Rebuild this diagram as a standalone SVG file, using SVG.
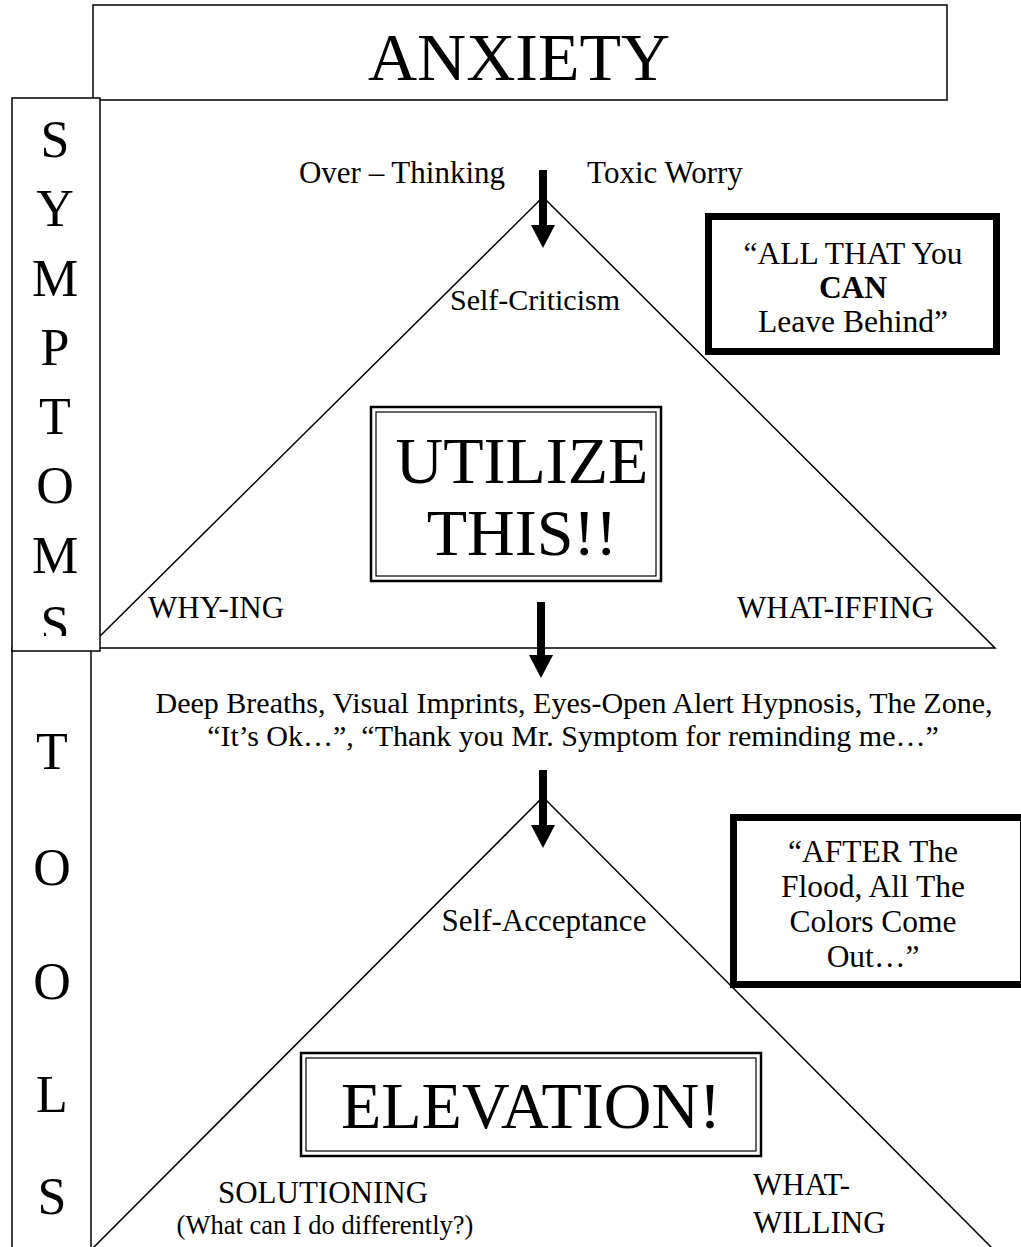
<svg xmlns="http://www.w3.org/2000/svg" width="1021" height="1247" viewBox="0 0 1021 1247">
<defs>
<style>
text{font-family:"Liberation Serif","Times New Roman",serif;fill:#000}
.box{fill:#fff;stroke:#000;stroke-width:1.5}
.tri{fill:none;stroke:#000;stroke-width:1.5}
.col{font-size:52px;text-anchor:middle}
.body{font-size:31px}
.q{font-size:31.5px;text-anchor:middle}
.mid{text-anchor:middle}
.quote{fill:#fff;stroke:#000;stroke-width:7}
.dbl-o{fill:#fff;stroke:#000;stroke-width:2.5}
.dbl-i{fill:none;stroke:#000;stroke-width:1.2}
.big{font-size:66px;text-anchor:middle}
.arrow{stroke:#000;stroke-width:8;marker-end:url(#ah)}
</style>
<marker id="ah" viewBox="0 0 23 24" refX="0" refY="12" markerWidth="23" markerHeight="24" markerUnits="userSpaceOnUse" orient="auto">
<path d="M0,0 L23,12 L0,24 z" fill="#000"/>
</marker>
<clipPath id="clipS"><rect x="0" y="0" width="120" height="636"/></clipPath>
</defs>

<g id="triangle-top">
<polygon class="tri" points="543,197 88,648 995,648"/>
</g>
<g id="triangle-bottom">
<polygon class="tri" points="543,797 92,1249 993,1249"/>
</g>

<g id="anxiety">
<rect class="box" x="93" y="5" width="854" height="95"/>
<text x="519" y="80" style="font-size:68px;text-anchor:middle">ANXIETY</text>
</g>

<g id="tools">
<rect class="box" x="12" y="648" width="79" height="610"/>
<text class="col" x="52" y="769">T</text>
<text class="col" x="52" y="885">O</text>
<text class="col" x="52" y="999">O</text>
<text class="col" x="52" y="1112">L</text>
<text class="col" x="52" y="1214">S</text>
</g>

<g id="symptoms">
<rect class="box" x="12" y="98" width="88" height="553"/>
<text class="col" x="55" y="157">S</text>
<text class="col" x="55" y="226">Y</text>
<text class="col" x="55" y="296">M</text>
<text class="col" x="55" y="365">P</text>
<text class="col" x="55" y="434">T</text>
<text class="col" x="55" y="503">O</text>
<text class="col" x="55" y="573">M</text>
<text class="col" x="55" y="642" clip-path="url(#clipS)">S</text>
</g>

<g id="connectors">
<line class="arrow" x1="543" y1="170" x2="543" y2="225"/>
<line class="arrow" x1="541" y1="602" x2="541" y2="655"/>
<line class="arrow" x1="543" y1="770" x2="543" y2="825"/>
</g>

<g id="symptom-labels">
<text class="body mid" x="402" y="183">Over – Thinking</text>
<text class="body mid" x="665" y="183">Toxic Worry</text>
<text class="mid" x="535" y="310" style="font-size:30px">Self-Criticism</text>
<text class="body" x="148" y="618">WHY-ING</text>
<text class="body" x="737" y="618">WHAT-IFFING</text>
</g>

<g id="quote-leave-behind">
<rect class="quote" x="708.5" y="216.5" width="288" height="135"/>
<text class="q" x="853" y="264">“ALL THAT You</text>
<text class="q" x="853" y="298" font-weight="bold">CAN</text>
<text class="q" x="853" y="332">Leave Behind”</text>
</g>

<g id="utilize">
<rect class="dbl-o" x="371" y="407" width="290" height="174"/>
<rect class="dbl-i" x="376" y="412" width="280" height="164"/>
<text class="big" x="522" y="483">UTILIZE</text>
<text class="big" x="522" y="555">THIS!!</text>
</g>

<g id="tool-list">
<text class="mid" x="574" y="713" style="font-size:30px">Deep Breaths, Visual Imprints, Eyes-Open Alert Hypnosis, The Zone,</text>
<text class="mid" x="573" y="746" style="font-size:30px">“It’s Ok…”, “Thank you Mr. Symptom for reminding me…”</text>
</g>

<g id="self-acceptance">
<text class="body mid" x="544" y="931">Self-Acceptance</text>
</g>

<g id="quote-after-flood">
<rect class="quote" x="733.5" y="817.5" width="290" height="167"/>
<text class="q" x="873" y="862">“AFTER The</text>
<text class="q" x="873" y="897">Flood, All The</text>
<text class="q" x="873" y="932">Colors Come</text>
<text class="q" x="873" y="967">Out…”</text>
</g>

<g id="elevation">
<rect class="dbl-o" x="301" y="1053" width="460" height="103"/>
<rect class="dbl-i" x="306" y="1058" width="450" height="93"/>
<text class="big" x="531" y="1128">ELEVATION!</text>
</g>

<g id="tool-labels">
<text class="body mid" x="323" y="1203">SOLUTIONING</text>
<text class="mid" x="325" y="1234" style="font-size:26.5px">(What can I do differently?)</text>
<text class="body" x="753" y="1195">WHAT-</text>
<text class="body" x="753" y="1233">WILLING</text>
</g>
</svg>
